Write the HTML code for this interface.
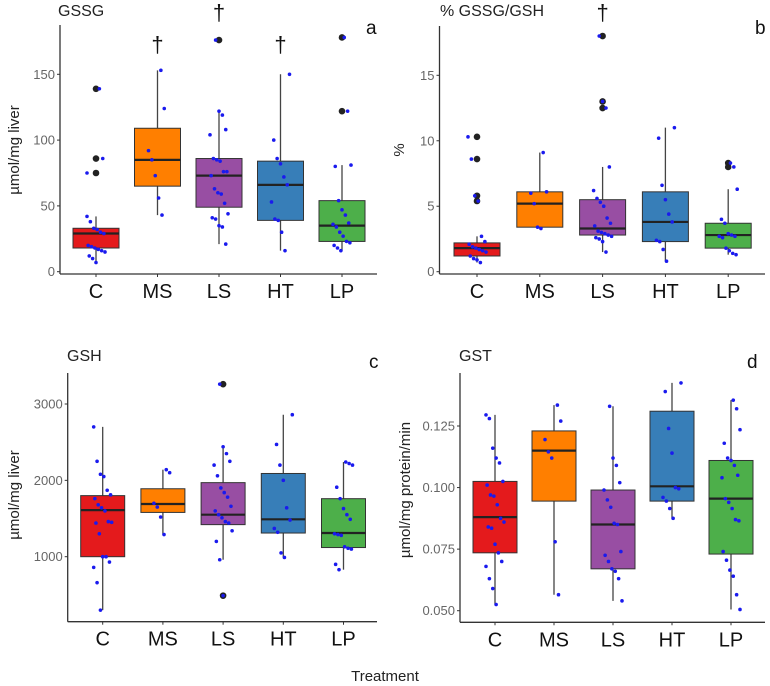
<!DOCTYPE html>
<html><head><meta charset="utf-8">
<style>
html,body{margin:0;padding:0;background:#fff;}
svg{display:block;font-family:"Liberation Sans",sans-serif;}
</style></head>
<body>
<svg id="fig" width="770" height="686" viewBox="0 0 770 686"></svg>
<script>
const categories = ["C","MS","LS","HT","LP"];
const colors = ["#e41a1c","#ff7f00","#984ea3","#377eb8","#4daf4a"];

// Panel a: GSSG
const aStats = [[7,18,29,33,42],[43,65,85,109,153],[21,49,73,86,122],[16,39,66,84,150],[16,23,35,54,81]];
const aPoints = [
 [42,38,33,32,30,29,20,19,18,17,16,15,12,10,7,139,86,75],
 [153,124,92,85,73,56,43],
 [176,122,119,108,104,86,85,84,76,76,73,63,60,59,52,44,41,40,35,34,21],
 [150,100,86,82,72,66,53,40,39,30,16],
 [178,122,81,80,54,47,43,37,36,34,30,27,23,22,20,18,16]];
const aOutliers = [[139,86,75],[],[176],[],[178,122]];
const aTicks = [0,50,100,150];
const aDaggers = [1,2,3];

// Panel b: % GSSG/GSH
const bStats = [[0.7,1.2,1.8,2.2,2.7],[3.3,3.4,5.2,6.1,9.1],[1.5,2.8,3.3,5.5,8],[0.8,2.3,3.8,6.1,11],[1.3,1.8,2.8,3.7,6.3]];
const bPoints = [
 [10.3,8.6,5.8,5.4,2.7,2.3,2.1,1.9,1.8,1.7,1.6,1.5,1.2,1.0,0.9,0.7],
 [9.1,6.1,6.0,5.2,3.4,3.3],
 [18,13,12.5,8,6.2,5.6,5.3,5.0,4.1,3.7,3.5,3.1,3.0,2.9,2.8,2.7,2.6,2.5,2.3,1.5],
 [11,10.2,6.6,5.5,4.4,3.8,2.4,2.3,1.7,0.8],
 [8.3,8.0,6.3,4.0,3.7,2.9,2.8,2.7,2.7,2.6,1.8,1.6,1.4,1.3]];
const bOutliers = [[10.3,8.6,5.8,5.4],[],[18,13,12.5],[],[8.3,8.0]];
const bTicks = [0,5,10,15];
const bDaggers = [2];

// Panel c: GSH
const cStats = [[300,1000,1610,1800,2700],[1290,1580,1690,1890,2140],[960,1420,1550,1970,2440],[990,1310,1490,2090,2860],[830,1120,1310,1760,2240]];
const cPoints = [
 [2700,2250,2080,2050,1870,1810,1760,1680,1640,1600,1460,1450,1440,1300,1000,1000,930,860,660,300],
 [2140,2100,1700,1650,1520,1290],
 [3260,2440,2350,2250,2200,2060,1900,1840,1780,1660,1600,1550,1510,1460,1440,1340,1200,960,490],
 [2860,2470,2200,2000,1640,1480,1370,1320,1050,990],
 [2240,2220,2200,1910,1760,1630,1550,1490,1300,1290,1280,1130,1110,1100,900,830]];
const cOutliers = [[],[],[3260,490],[],[]];
const cTicks = [1000,2000,3000];

// Panel d: GST
const dStats = [[0.0525,0.0735,0.088,0.1025,0.1295],[0.0565,0.0945,0.115,0.123,0.1335],[0.054,0.067,0.085,0.099,0.133],[0.0875,0.0945,0.1005,0.131,0.1425],[0.0505,0.073,0.0955,0.111,0.1355]];
const dPoints = [
 [0.1295,0.128,0.116,0.112,0.110,0.1025,0.101,0.097,0.0965,0.093,0.0875,0.086,0.084,0.0835,0.077,0.0735,0.070,0.068,0.063,0.059,0.0525],
 [0.1335,0.127,0.1195,0.1145,0.112,0.078,0.0565],
 [0.133,0.112,0.109,0.102,0.099,0.095,0.092,0.0855,0.085,0.074,0.0725,0.070,0.067,0.066,0.063,0.054],
 [0.1425,0.139,0.124,0.114,0.100,0.0995,0.096,0.0945,0.0915,0.0875],
 [0.1355,0.132,0.1235,0.118,0.112,0.111,0.109,0.105,0.104,0.0955,0.094,0.0915,0.087,0.0865,0.074,0.0705,0.0665,0.064,0.0565,0.0505]];
const dOutliers = [[],[],[],[],[]];
const dTicks = [0.050,0.075,0.100,0.125];
const dTickLabels = ["0.050","0.075","0.100","0.125"];

const NS = "http://www.w3.org/2000/svg";
const svg = document.getElementById("fig");
function mk(tag, attrs, parent, text){
  const e = document.createElementNS(NS, tag);
  for (const k in attrs) e.setAttribute(k, attrs[k]);
  if (text !== undefined) e.textContent = text;
  (parent || svg).appendChild(e);
  return e;
}

function panel(cfg){
  const g = mk("g", {});
  
  
  const y = v => cfg.y0 + (v - cfg.v0) * (cfg.y1 - cfg.y0) / (cfg.v1 - cfg.v0);
  const x = i => cfg.cx0 + i * cfg.step;
  const ya = mk("line", {x1:cfg.ax, y1:cfg.top, x2:cfg.ax, y2:cfg.base, stroke:"#333", "stroke-width":1.3}, g);
  
  
  const xa = mk("line", {x1:cfg.ax, y1:cfg.base, x2:cfg.right, y2:cfg.base, stroke:"#333", "stroke-width":1.3}, g);
  
  
  cfg.ticks.forEach((t, k) => {
    const ty = y(t);
    mk("line", {x1:cfg.ax-3, y1:ty, x2:cfg.ax, y2:ty, stroke:"#333", "stroke-width":1}, g);
    const tl = mk("text", {x:cfg.ax-5, y:ty+4.5, "text-anchor":"end", "font-size":13, fill:"#666"}, g,
      cfg.tickLabels ? cfg.tickLabels[k] : String(t));
    
    
  });
  categories.forEach((c, i) => {
    const cx = x(i);
    mk("line", {x1:cx, y1:cfg.base, x2:cx, y2:cfg.base+3, stroke:"#333", "stroke-width":1}, g);
    const cl = mk("text", {x:cx, y:cfg.base+24, "text-anchor":"middle", "font-size":20, fill:"#111"}, g, c);
    
    
    const s = cfg.stats[i];
    const bg = mk("g", {}, g);
    
    
    mk("line", {x1:cx, y1:y(s[0]), x2:cx, y2:y(s[4]), stroke:"#444", "stroke-width":1.3}, bg);
    const hw = cfg.bw / 2;
    mk("rect", {x:cx-hw, y:y(s[3]), width:cfg.bw, height:y(s[1])-y(s[3]), fill:colors[i], stroke:"#333", "stroke-width":1}, bg);
    mk("line", {x1:cx-hw, y1:y(s[2]), x2:cx+hw, y2:y(s[2]), stroke:"#222", "stroke-width":2.2}, bg);
    cfg.outliers[i].forEach(v => {
      const o = mk("circle", {cx:cx, cy:y(v), r:3.3, fill:"#222"}, bg);
      
      
    });
    cfg.points[i].forEach((v, j) => {
      const jit = (((j * 37 + i * 11) % 17) / 16 - 0.5) * 18;
      const p = mk("circle", {cx:cx + jit, cy:y(v), r:1.8, fill:"#1a1aee"}, bg);
      
      
    });
  });
  (cfg.daggers || []).forEach(i => {
    const d = mk("text", {x:x(i), y:cfg.daggerY[cfg.daggers.indexOf(i)], "text-anchor":"middle", "font-size":22, fill:"#111"}, g, "†");
    
    
  });
  const ti = mk("text", {x:cfg.titleX, y:cfg.titleY, "font-size":16, fill:"#222"}, g, cfg.title);
  
  
  const lt = mk("text", {x:cfg.letterX, y:cfg.letterY, "font-size":19, fill:"#111"}, g, cfg.letter);
  
  
  const yl = mk("text", {x:0, y:0, "text-anchor":"middle", "font-size":15, fill:"#222",
    transform:`translate(${cfg.ylabX},${cfg.ylabY}) rotate(-90)`}, g, cfg.ylab);
  
  
}

panel({name:"panel-a-gssg", stats:aStats, points:aPoints, outliers:aOutliers, ticks:aTicks,
  v0:0, v1:150, y0:271.7, y1:74.3, ax:60, top:25, base:274, right:377, cx0:96, step:61.5, bw:46,
  daggers:aDaggers, daggerY:[52,20,52], title:"GSSG", titleX:58, titleY:16, letter:"a", letterX:366, letterY:34,
  ylab:"µmol/mg liver", ylabX:19, ylabY:150});
panel({name:"panel-b-ratio", stats:bStats, points:bPoints, outliers:bOutliers, ticks:bTicks,
  v0:0, v1:15, y0:271.7, y1:75.3, ax:439.5, top:26, base:274, right:765, cx0:477, step:62.8, bw:46,
  daggers:bDaggers, daggerY:[20], title:"% GSSG/GSH", titleX:440, titleY:16, letter:"b", letterX:755, letterY:34,
  ylab:"%", ylabX:404, ylabY:150});
panel({name:"panel-c-gsh", stats:cStats, points:cPoints, outliers:cOutliers, ticks:cTicks,
  v0:1000, v1:3000, y0:556.7, y1:404, ax:67.7, top:373, base:621.7, right:377, cx0:102.7, step:60.2, bw:44,
  title:"GSH", titleX:67, titleY:361, letter:"c", letterX:369, letterY:368,
  ylab:"µmol/mg liver", ylabX:19, ylabY:495});
panel({name:"panel-d-gst", stats:dStats, points:dPoints, outliers:dOutliers, ticks:dTicks, tickLabels:dTickLabels,
  v0:0.05, v1:0.125, y0:610.7, y1:426, ax:460, top:373, base:622.3, right:765, cx0:495, step:59, bw:44,
  title:"GST", titleX:459, titleY:361, letter:"d", letterX:747, letterY:368,
  ylab:"µmol/mg protein/min", ylabX:410, ylabY:490});

const xt = mk("text", {x:385, y:681, "text-anchor":"middle", "font-size":15, fill:"#222"}, svg, "Treatment");


</script>
</body></html>
